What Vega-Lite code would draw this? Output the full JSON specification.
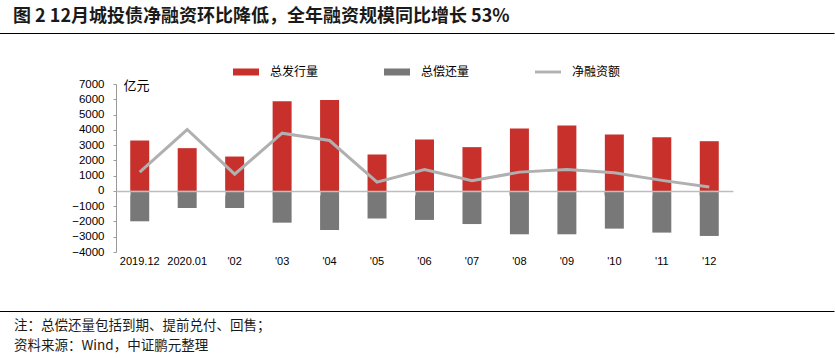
{
  "$schema": "https://vega.github.io/schema/vega-lite/v6.json",
  "padding": 0,
  "background": "white",
  "config": {"view": {"stroke": null}, "font": "Liberation Sans"},
  "datasets": {
    "main": [
      {"month": "2019.12", "issue": 3300, "repay": -1990, "net": 1230},
      {"month": "2020.01", "issue": 2800, "repay": -1120, "net": 4020},
      {"month": "'02", "issue": 2250, "repay": -1120, "net": 1100},
      {"month": "'03", "issue": 5870, "repay": -2080, "net": 3780},
      {"month": "'04", "issue": 5960, "repay": -2560, "net": 3300},
      {"month": "'05", "issue": 2385, "repay": -1800, "net": 575},
      {"month": "'06", "issue": 3370, "repay": -1900, "net": 1400},
      {"month": "'07", "issue": 2865, "repay": -2170, "net": 660},
      {"month": "'08", "issue": 4085, "repay": -2840, "net": 1230},
      {"month": "'09", "issue": 4280, "repay": -2840, "net": 1400},
      {"month": "'10", "issue": 3690, "repay": -2470, "net": 1190},
      {"month": "'11", "issue": 3520, "repay": -2730, "net": 690},
      {"month": "'12", "issue": 3255, "repay": -2950, "net": 250}
    ]
  },
  "columns": 1,
  "align": "none",
  "spacing": 26,
  "resolve": {"scale": {"x": "independent", "y": "independent", "color": "independent"}, "legend": {"color": "independent"}},
  "concat": [
    {
      "width": 718,
      "height": 33,
      "data": {"values": [{"t": "图 2    12月城投债净融资环比降低，全年融资规模同比增长 53%"}]},
      "mark": {"type": "text", "align": "left", "baseline": "middle", "dx": 14, "fontSize": 18, "fontWeight": "bold", "font": "Noto Sans CJK SC", "color": "#1a1a1a"},
      "encoding": {
        "x": {"datum": 0, "type": "quantitative", "scale": {"domain": [0, 1], "range": [-117, 718]}, "axis": {"orient": "bottom", "domain": true, "domainColor": "#000000", "domainWidth": 1, "ticks": false, "labels": false, "grid": false, "title": null}},
        "text": {"field": "t", "type": "nominal"}
      }
    },
    {
      "columns": 1,
      "align": "none",
      "spacing": 45,
      "resolve": {"scale": {"x": "independent", "y": "independent", "color": "independent"}, "legend": {"color": "independent"}},
      "concat": [
        {
          "width": 617,
          "height": 168,
          "data": {"name": "main"},
          "layer": [
            {
              "mark": {"type": "bar"},
              "encoding": {
                "x": {"field": "month", "type": "ordinal", "sort": null, "scale": {"paddingInner": 0.6, "paddingOuter": 0.3},
                  "axis": {"orient": "bottom", "domain": false, "ticks": false, "tickSize": 0, "labelPadding": 3, "labelAngle": 0, "labelFontSize": 11, "labelColor": "#000000", "labelFont": "Liberation Sans", "title": null, "grid": false}},
                "y": {"field": "issue", "type": "quantitative", "title": "亿元",
                  "scale": {"domain": [-4000, 7000], "nice": false},
                  "axis": {"values": [-4000, -3000, -2000, -1000, 0, 1000, 2000, 3000, 4000, 5000, 6000, 7000], "format": "d", "labelOverlap": false, "grid": false, "domainColor": "#9a9a9a", "tickColor": "#9a9a9a", "tickSize": 3, "labelPadding": 9, "labelFontSize": 11.5, "labelColor": "#000000", "labelFont": "Liberation Sans", "minExtent": 116, "titleAngle": 0, "titleX": 7, "titleY": 1, "titleAlign": "left", "titleBaseline": "middle", "titleFont": "Noto Sans CJK SC", "titleFontSize": 13, "titleFontWeight": "normal", "titleColor": "#000000"}},
                "color": {"datum": "总发行量", "type": "nominal",
                  "scale": {"domain": ["总发行量", "总偿还量", "净融资额"], "range": ["#C8302B", "#787878", "#B0B0B0"]},
                  "legend": {"orient": "none", "legendX": 117, "legendY": -25, "direction": "horizontal", "title": null, "padding": 0, "labelFont": "Noto Sans CJK SC", "labelFontSize": 12, "labelColor": "#000000", "symbolType": "M-1,-0.27H1V0.27H-1Z", "symbolSize": 676, "symbolStrokeWidth": 0, "labelOffset": 11, "columnPadding": 65,
                    "encode": {"symbols": {"update": {"shape": {"signal": "datum.value === '净融资额' ? 'M-1,-0.11H1V0.11H-1Z' : 'M-1,-0.27H1V0.27H-1Z'"}, "fill": {"scale": "color", "field": "value"}, "stroke": {"value": "transparent"}}}}}}
              }
            },
            {
              "mark": {"type": "bar"},
              "encoding": {
                "x": {"field": "month", "type": "ordinal", "sort": null,
                  "axis": {"orient": "bottom", "offset": -61, "zindex": 1, "domain": true, "domainColor": "#BDBDBD", "domainWidth": 1.5, "ticks": true, "tickColor": "#BDBDBD", "tickSize": 4, "bandPosition": 0, "labels": false, "title": null, "grid": false}},
                "y": {"field": "repay", "type": "quantitative", "title": "亿元",
                  "axis": {"values": [-4000, -3000, -2000, -1000, 0, 1000, 2000, 3000, 4000, 5000, 6000, 7000], "format": "d", "labelOverlap": false, "grid": false, "domainColor": "#9a9a9a", "tickColor": "#9a9a9a", "tickSize": 3, "labelPadding": 9, "labelFontSize": 11.5, "labelColor": "#000000", "labelFont": "Liberation Sans", "minExtent": 116, "titleAngle": 0, "titleX": 7, "titleY": 1, "titleAlign": "left", "titleBaseline": "middle", "titleFont": "Noto Sans CJK SC", "titleFontSize": 13, "titleFontWeight": "normal", "titleColor": "#000000"}},
                "color": {"datum": "总偿还量", "type": "nominal"}
              }
            },
            {
              "mark": {"type": "line", "strokeWidth": 3},
              "encoding": {
                "x": {"field": "month", "type": "ordinal", "sort": null, "axis": null},
                "y": {"field": "net", "type": "quantitative", "title": "亿元",
                  "axis": {"values": [-4000, -3000, -2000, -1000, 0, 1000, 2000, 3000, 4000, 5000, 6000, 7000], "format": "d", "labelOverlap": false, "grid": false, "domainColor": "#9a9a9a", "tickColor": "#9a9a9a", "tickSize": 3, "labelPadding": 9, "labelFontSize": 11.5, "labelColor": "#000000", "labelFont": "Liberation Sans", "minExtent": 116, "titleAngle": 0, "titleX": 7, "titleY": 1, "titleAlign": "left", "titleBaseline": "middle", "titleFont": "Noto Sans CJK SC", "titleFontSize": 13, "titleFontWeight": "normal", "titleColor": "#000000"}},
                "color": {"datum": "净融资额", "type": "nominal"}
              }
            }
          ],
          "resolve": {"axis": {"x": "independent"}}
        },
        {
          "width": 718,
          "height": 50,
          "data": {"values": [{"n": 1, "t": "注：总偿还量包括到期、提前兑付、回售；"}, {"n": 2, "t": "资料来源：Wind，中证鹏元整理"}]},
          "mark": {"type": "text", "align": "left", "baseline": "middle", "dx": 15, "fontSize": 13.5, "font": "Noto Sans CJK SC", "color": "#1a1a1a"},
          "encoding": {
            "x": {"datum": 0, "type": "quantitative", "scale": {"domain": [0, 1], "range": [-117, 718]}, "axis": {"orient": "top", "domain": true, "domainColor": "#000000", "domainWidth": 1, "ticks": false, "labels": false, "grid": false, "title": null}},
            "y": {"field": "n", "type": "ordinal", "axis": null, "scale": {"type": "point", "padding": 0.75}},
            "text": {"field": "t", "type": "nominal"}
          }
        }
      ]
    }
  ]
}
